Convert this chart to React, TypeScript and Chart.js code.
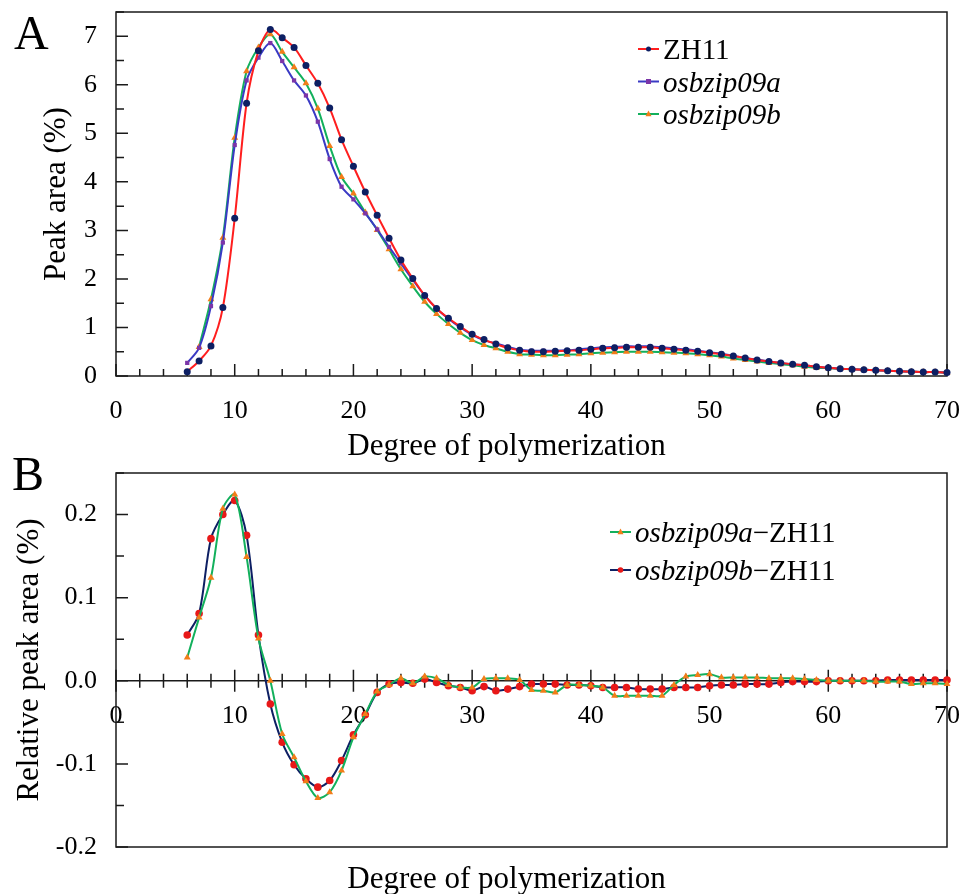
import React, { useEffect, useRef } from 'react';
import { Chart, registerables } from 'chart.js';

Chart.register(...registerables);

// ---------- DATA ----------
const DP_A = [6, 7, 8, 9, 10, 11, 12, 13, 14, 15, 16, 17, 18, 19, 20, 21, 22, 23, 24, 25, 26, 27, 28, 29, 30, 31, 32, 33, 34, 35, 36, 37, 38, 39, 40, 41, 42, 43, 44, 45, 46, 47, 48, 49, 50, 51, 52, 53, 54, 55, 56, 57, 58, 59, 60, 61, 62, 63, 64, 65, 66, 67, 68, 69, 70];
const DP_09B = [7, 8, 9, 10, 11, 12, 13, 14, 15, 16, 17, 18, 19, 20, 21, 22, 23, 24, 25, 26, 27, 28, 29, 30, 31, 32, 33, 34, 35, 36, 37, 38, 39, 40, 41, 42, 43, 44, 45, 46, 47, 48, 49, 50, 51, 52, 53, 54, 55, 56, 57, 58, 59, 60, 61, 62, 63, 64, 65, 66, 67, 68, 69, 70];

const ZH11 = [0.09, 0.31, 0.62, 1.41, 3.25, 5.62, 6.70, 7.14, 6.97, 6.77, 6.40, 6.03, 5.52, 4.87, 4.32, 3.79, 3.31, 2.84, 2.39, 2.01, 1.66, 1.39, 1.19, 1.02, 0.86, 0.75, 0.66, 0.58, 0.53, 0.50, 0.50, 0.51, 0.52, 0.53, 0.55, 0.57, 0.58, 0.59, 0.59, 0.59, 0.57, 0.55, 0.53, 0.51, 0.48, 0.45, 0.41, 0.37, 0.33, 0.30, 0.27, 0.24, 0.22, 0.19, 0.17, 0.15, 0.14, 0.13, 0.12, 0.11, 0.10, 0.09, 0.08, 0.08, 0.07];
const OSBZIP09A = [0.27, 0.58, 1.44, 2.75, 4.76, 6.09, 6.56, 6.86, 6.49, 6.09, 5.78, 5.24, 4.47, 3.90, 3.64, 3.35, 3.02, 2.66, 2.32, 1.98, 1.66, 1.39, 1.18, 1.00, 0.85, 0.74, 0.67, 0.60, 0.54, 0.52, 0.52, 0.52, 0.53, 0.55, 0.57, 0.59, 0.60, 0.61, 0.61, 0.61, 0.59, 0.57, 0.55, 0.52, 0.49, 0.46, 0.42, 0.37, 0.34, 0.30, 0.27, 0.24, 0.22, 0.19, 0.17, 0.15, 0.14, 0.13, 0.12, 0.11, 0.10, 0.09, 0.08, 0.08, 0.07];
const OSBZIP09B = [0.60, 1.58, 2.85, 4.91, 6.28, 6.77, 7.04, 6.68, 6.36, 6.03, 5.51, 4.74, 4.10, 3.76, 3.37, 3.01, 2.61, 2.20, 1.85, 1.53, 1.28, 1.07, 0.89, 0.74, 0.64, 0.57, 0.50, 0.45, 0.44, 0.43, 0.43, 0.44, 0.45, 0.47, 0.48, 0.49, 0.50, 0.50, 0.50, 0.49, 0.48, 0.47, 0.45, 0.43, 0.40, 0.36, 0.33, 0.30, 0.27, 0.24, 0.22, 0.19, 0.17, 0.16, 0.15, 0.14, 0.13, 0.12, 0.11, 0.10, 0.09, 0.08, 0.08, 0.07];

const DIFF_09A = [0.028, 0.076, 0.124, 0.207, 0.224, 0.149, 0.051, 0.000, -0.064, -0.092, -0.121, -0.141, -0.134, -0.108, -0.068, -0.040, -0.013, -0.005, 0.003, -0.003, 0.005, 0.003, -0.005, -0.008, -0.008, 0.002, 0.003, 0.003, 0.001, -0.011, -0.012, -0.014, -0.005, -0.005, -0.006, -0.008, -0.018, -0.018, -0.018, -0.018, -0.018, -0.005, 0.005, 0.007, 0.008, 0.004, 0.004, 0.004, 0.004, 0.003, 0.003, 0.003, 0.002, 0.001, 0.000, 0.000, 0.000, 0.000, -0.001, -0.001, -0.001, -0.004, -0.003, -0.003, -0.004];
const DIFF_09B = [0.055, 0.081, 0.171, 0.200, 0.217, 0.175, 0.055, -0.028, -0.074, -0.101, -0.118, -0.128, -0.120, -0.096, -0.065, -0.041, -0.014, -0.004, -0.002, -0.003, 0.002, -0.002, -0.006, -0.008, -0.012, -0.007, -0.012, -0.010, -0.007, -0.004, -0.004, -0.004, -0.005, -0.005, -0.006, -0.008, -0.008, -0.008, -0.010, -0.010, -0.010, -0.008, -0.008, -0.008, -0.006, -0.005, -0.005, -0.004, -0.004, -0.004, -0.002, -0.001, -0.001, -0.001, 0.000, 0.000, 0.000, 0.000, 0.000, 0.001, 0.001, 0.001, 0.001, 0.001, 0.001];

const NAMES_A = ['ZH11', 'osbzip09a', 'osbzip09b'];
const ITALIC_A = [false, true, true];
const NAMES_B = ['osbzip09a', 'osbzip09b'];
const SUFFIX_B = '\u2212ZH11';

const X_TITLE = 'Degree of polymerization';
const Y_TITLE_A = 'Peak area (%)';
const Y_TITLE_B = 'Relative peak area (%)';

// ---------- STYLE ----------
const FAMILY = "'Liberation Serif', 'Times New Roman', serif";
const RED = '#ff1e1e';
const NAVY = '#0d1f63';
const BLUE = '#3a3ac4';
const PURPLE = '#7b35a8';
const GREEN = '#12b05c';
const ORANGE = '#f27d18';
const RED_PT = '#e81818';
const AXIS = '#1a1a1a';

const W = 968;
const H_A = 470; // taller than its 440 slot so the A x-title is not cut
const TOP_B = 440;
const H_B = 454;

function pts(xs: number[], ys: number[]) {
  return xs.map((x, i) => ({ x, y: ys[i] }));
}

function drawMarker(ctx: CanvasRenderingContext2D, style: string, x: number, y: number, r: number, color: string) {
  ctx.fillStyle = color;
  ctx.beginPath();
  if (style === 'circle') ctx.arc(x, y, r, 0, Math.PI * 2);
  else if (style === 'rect') ctx.rect(x - r, y - r, 2 * r, 2 * r);
  else {
    ctx.moveTo(x, y - r * 1.15);
    ctx.lineTo(x + r, y + r * 0.75);
    ctx.lineTo(x - r, y + r * 0.75);
    ctx.closePath();
  }
  ctx.fill();
}

type LegendItem = { parts: [string, boolean][]; line: string; marker: string; markerColor: string; r: number };

function decorPlugin(cfg: {
  id: string;
  yMinor: number;
  yMajor: number;
  crossZero: boolean;
  letter: string;
  letterX: number;
  letterY: number;
  titleDy: number;
  legend: LegendItem[];
  legendX: number;
  legendY: number;
  legendDy: number;
  legendFont: number;
}) {
  return {
    id: cfg.id,
    beforeDatasetsDraw(chart: any) {
      const { ctx, chartArea: ca, scales } = chart;
      const xs = scales.x;
      const ys = scales.y;
      ctx.save();
      ctx.strokeStyle = AXIS;
      ctx.lineWidth = 1.5;
      ctx.strokeRect(ca.left, ca.top, ca.right - ca.left, ca.bottom - ca.top);
      const ny = Math.round((ys.max - ys.min) / cfg.yMinor);
      ctx.beginPath();
      for (let i = 0; i <= ny; i++) {
        const v = ys.min + i * cfg.yMinor;
        const r = v / cfg.yMajor;
        const major = Math.abs(r - Math.round(r)) < 1e-6;
        const py = ys.getPixelForValue(v);
        ctx.moveTo(ca.left, py);
        ctx.lineTo(ca.left + (major ? 12 : 8), py);
      }
      ctx.stroke();
      const y0 = cfg.crossZero ? ys.getPixelForValue(0) : ca.bottom;
      ctx.beginPath();
      if (cfg.crossZero) {
        ctx.moveTo(ca.left, y0);
        ctx.lineTo(ca.right, y0);
      }
      const nx = Math.round((xs.max - xs.min) / 2);
      for (let i = 0; i <= nx; i++) {
        const v = xs.min + i * 2;
        const major = v % 10 === 0;
        const px = xs.getPixelForValue(v);
        if (cfg.crossZero) {
          const L = major ? 11 : 7;
          ctx.moveTo(px, y0 - L);
          ctx.lineTo(px, y0 + L);
        } else {
          ctx.moveTo(px, y0);
          ctx.lineTo(px, y0 - (major ? 12 : 7));
        }
      }
      ctx.stroke();
      ctx.restore();
    },
    afterDraw(chart: any) {
      const { ctx, chartArea: ca } = chart;
      ctx.save();
      ctx.fillStyle = '#000';
      ctx.font = `31px ${FAMILY}`;
      ctx.textAlign = 'center';
      ctx.textBaseline = 'alphabetic';
      ctx.fillText(X_TITLE, (ca.left + ca.right) / 2 - 25, ca.bottom + cfg.titleDy);
      ctx.font = `48px ${FAMILY}`;
      ctx.textAlign = 'left';
      ctx.fillText(cfg.letter, cfg.letterX, cfg.letterY);
      cfg.legend.forEach((it, i) => {
        const y = cfg.legendY + i * cfg.legendDy;
        ctx.strokeStyle = it.line;
        ctx.lineWidth = 2;
        ctx.beginPath();
        ctx.moveTo(cfg.legendX, y);
        ctx.lineTo(cfg.legendX + 21, y);
        ctx.stroke();
        drawMarker(ctx, it.marker, cfg.legendX + 10.5, y, it.r, it.markerColor);
        let x = cfg.legendX + 25;
        ctx.fillStyle = '#000';
        ctx.textAlign = 'left';
        ctx.textBaseline = 'alphabetic';
        it.parts.forEach(([t, italic]) => {
          ctx.font = `${italic ? 'italic ' : ''}${cfg.legendFont}px ${FAMILY}`;
          ctx.fillText(t, x, y + 10);
          x += ctx.measureText(t).width;
        });
      });
      ctx.restore();
    },
  };
}

function zeroPad(s: any) {
  s.paddingTop = 0;
  s.paddingBottom = 0;
  s.paddingLeft = 0;
  s.paddingRight = 0;
}

function baseScales(yMin: number, yMax: number, yStep: number, yTitle: string, titlePad: number, xPos: any, xHeight: number | null, fmt: (v: number) => string) {
  const tickFont = { size: 26, family: FAMILY };
  return {
    x: {
      type: 'linear',
      min: 0,
      max: 70,
      position: xPos,
      grid: { display: false, drawTicks: false },
      border: { display: false },
      ticks: { stepSize: 10, padding: 20, font: tickFont, color: '#000', maxRotation: 0, autoSkip: false, includeBounds: false },
      afterFit: (s: any) => {
        if (xHeight !== null) s.height = xHeight;
        zeroPad(s);
      },
    },
    y: {
      type: 'linear',
      min: yMin,
      max: yMax,
      grid: { display: false, drawTicks: false },
      border: { display: false },
      ticks: { stepSize: yStep, padding: 19, font: tickFont, color: '#000', includeBounds: false, callback: (v: any) => fmt(Number(v)) },
      title: { display: true, text: yTitle, color: '#000', font: { size: 31, family: FAMILY }, padding: { top: titlePad, bottom: 0 } },
      afterFit: (s: any) => {
        s.width = 116;
        zeroPad(s);
      },
    },
  };
}

function lineDs(label: string, data: any[], line: string, style: string, ptColor: string, r: number) {
  return {
    label,
    data,
    borderColor: line,
    backgroundColor: ptColor,
    borderWidth: 2,
    tension: 0.3,
    pointStyle: style,
    pointRadius: r,
    pointBackgroundColor: ptColor,
    pointBorderColor: ptColor,
    pointBorderWidth: 0,
    clip: false,
  };
}

export default function App() {
  const refA = useRef<HTMLCanvasElement | null>(null);
  const refB = useRef<HTMLCanvasElement | null>(null);

  useEffect(() => {
    if (!refA.current || !refB.current) return;
    Chart.defaults.font.family = FAMILY;
    Chart.defaults.color = '#000';

    const legendA: LegendItem[] = [
      { parts: [[NAMES_A[0], ITALIC_A[0]]], line: RED, marker: 'circle', markerColor: NAVY, r: 2.5 },
      { parts: [[NAMES_A[1], ITALIC_A[1]]], line: BLUE, marker: 'rect', markerColor: PURPLE, r: 2.5 },
      { parts: [[NAMES_A[2], ITALIC_A[2]]], line: GREEN, marker: 'triangle', markerColor: ORANGE, r: 3 },
    ];
    const legendB: LegendItem[] = [
      { parts: [[NAMES_B[0], true], [SUFFIX_B, false]], line: GREEN, marker: 'triangle', markerColor: ORANGE, r: 3 },
      { parts: [[NAMES_B[1], true], [SUFFIX_B, false]], line: NAVY, marker: 'circle', markerColor: RED_PT, r: 2.8 },
    ];

    const chartA = new Chart(refA.current, {
      type: 'line',
      data: {
        datasets: [
          lineDs(NAMES_A[0], pts(DP_A, ZH11), RED, 'circle', NAVY, 3.5),
          lineDs(NAMES_A[1], pts(DP_A, OSBZIP09A), BLUE, 'rect', PURPLE, 3),
          lineDs(NAMES_A[2], pts(DP_09B, OSBZIP09B), GREEN, 'triangle', ORANGE, 4),
        ] as any,
      },
      options: {
        responsive: false,
        animation: false,
        devicePixelRatio: 1,
        layout: { padding: { top: 12, right: 21, left: 0, bottom: H_A - 440 } },
        plugins: { legend: { display: false }, tooltip: { enabled: false } },
        scales: baseScales(0, 7.5, 1, Y_TITLE_A, 38, 'bottom', 64, (v) => String(Math.round(v))) as any,
      },
      plugins: [
        decorPlugin({
          id: 'decorA', yMinor: 0.5, yMajor: 1, crossZero: false,
          letter: 'A', letterX: 14, letterY: 49, titleDy: 79,
          legend: legendA, legendX: 638, legendY: 49, legendDy: 32.5, legendFont: 29,
        }) as any,
      ],
    });

    const chartB = new Chart(refB.current, {
      type: 'line',
      data: {
        datasets: [
          lineDs(NAMES_B[0] + SUFFIX_B, pts(DP_A, DIFF_09A), GREEN, 'triangle', ORANGE, 4),
          lineDs(NAMES_B[1] + SUFFIX_B, pts(DP_A, DIFF_09B), NAVY, 'circle', RED_PT, 3.8),
        ] as any,
      },
      options: {
        responsive: false,
        animation: false,
        devicePixelRatio: 1,
        layout: { padding: { top: 33, right: 21, left: 0, bottom: 47 } },
        plugins: { legend: { display: false }, tooltip: { enabled: false } },
        scales: baseScales(-0.2, 0.25, 0.1, Y_TITLE_B, 11, { y: 0 }, null, (v) => (Math.abs(v) < 1e-9 ? '0.0' : v.toFixed(1))) as any,
      },
      plugins: [
        decorPlugin({
          id: 'decorB', yMinor: 0.05, yMajor: 0.1, crossZero: true,
          letter: 'B', letterX: 12, letterY: 50, titleDy: 41,
          legend: legendB, legendX: 610, legendY: 92, legendDy: 38, legendFont: 29,
        }) as any,
      ],
    });

    return () => {
      chartA.destroy();
      chartB.destroy();
    };
  }, []);

  return (
    <div style={{ position: 'absolute', left: 0, top: 0, width: W, height: TOP_B + H_B, background: '#fff' }}>
      <canvas ref={refB} width={W} height={H_B} style={{ position: 'absolute', left: 0, top: TOP_B, width: W, height: H_B }} />
      <canvas ref={refA} width={W} height={H_A} style={{ position: 'absolute', left: 0, top: 0, width: W, height: H_A }} />
    </div>
  );
}
